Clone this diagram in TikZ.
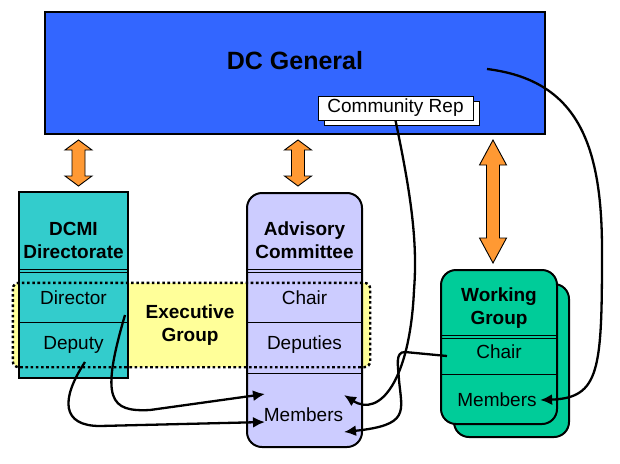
\documentclass[tikz,border=0pt]{standalone}
\usepackage{fontspec}
\setmainfont{Liberation Sans}
\usetikzlibrary{arrows.meta}
\definecolor{dcblue}{HTML}{3366FF}
\definecolor{dcmiteal}{HTML}{33CCCC}
\definecolor{advlilac}{HTML}{CCCCFF}
\definecolor{wggreen}{HTML}{00CC99}
\definecolor{execyellow}{HTML}{FFFF99}
\definecolor{arroworange}{HTML}{FF9933}
\tikzstyle{box}=[draw,line width=2pt,inner sep=0pt]
\tikzstyle{title}=[font=\bfseries\fontsize{19}{23}\selectfont,align=center]
\tikzstyle{entry}=[font=\fontsize{19}{23}\selectfont]
\tikzstyle{sep}=[line width=1pt]
\tikzstyle{link}=[line width=2.3pt,-{Latex[length=12pt,width=11pt]}]
\tikzstyle{orangearrow}=[draw,fill=arroworange,line width=0.9pt,line join=miter]

\begin{document}
\begin{tikzpicture}[x=1pt,y=-1pt]
\useasboundingbox (0,0) rectangle (620,463);
% top box
\node [box,fill=dcblue,minimum width=500pt,minimum height=122pt] (dc) at (295,73) {};
\node [title,font=\bfseries\fontsize{25}{30}\selectfont] (dctitle) at (295,61) {DC General};
\node [box,line width=0.9pt,fill=white,minimum width=155pt,minimum height=24pt] (crepback) at (401.5,113) {};
\node [box,entry,line width=0.9pt,fill=white,minimum width=155pt,minimum height=24pt] (crep) at (395.5,108) {Community Rep};

\foreach \ax/\ya/\yb/\hl in {78.5/140/186/10, 298/140/186/10, 493/140/263/25}
  \draw[orangearrow] (\ax,\ya) -- (\ax+13.5,\ya+\hl) -- (\ax+6.5,\ya+\hl) -- (\ax+6.5,\yb-\hl) -- (\ax+13.5,\yb-\hl)
    -- (\ax,\yb) -- (\ax-13.5,\yb-\hl) -- (\ax-6.5,\yb-\hl) -- (\ax-6.5,\ya+\hl) -- (\ax-13.5,\ya+\hl) -- cycle;

% executive group
\node [fill=execyellow,rounded corners=6pt,minimum width=357pt,minimum height=84pt,inner sep=0pt] (exec) at (191.5,325) {};

\node [box,fill=dcmiteal,minimum width=109pt,minimum height=186pt] (dcmi) at (73.5,285) {};
\draw[sep] (dcmi.west |- 0,269.5) -- (dcmi.east |- 0,269.5);
\draw[sep] (dcmi.west |- 0,272.5) -- (dcmi.east |- 0,272.5);
\draw[sep] (dcmi.west |- 0,322.5) -- (dcmi.east |- 0,322.5);

\node [box,fill=advlilac,rounded corners=15pt,minimum width=115pt,minimum height=254pt] (adv) at (304.5,320) {};
\draw[sep] (adv.west |- 0,269.5) -- (adv.east |- 0,269.5);
\draw[sep] (adv.west |- 0,272.5) -- (adv.east |- 0,272.5);
\draw[sep] (adv.west |- 0,322.5) -- (adv.east |- 0,322.5);
\draw[sep] (adv.west |- 0,373.5) -- (adv.east |- 0,373.5);

\draw[line width=2.4pt,dash pattern=on 2.6pt off 2.6pt,rounded corners=6pt] (exec.north west) rectangle (exec.south east);

\node [box,fill=wggreen,rounded corners=15pt,minimum width=115pt,minimum height=153pt] (wgback) at (511.5,360.5) {};
\node [box,fill=wggreen,rounded corners=15pt,minimum width=116pt,minimum height=154pt] (wg) at (499,347) {};
\draw[sep] (wg.west |- 0,335) -- (wg.east |- 0,335);
\draw[sep] (wg.west |- 0,338) -- (wg.east |- 0,338);
\draw[sep] (wg.west |- 0,374) -- (wg.east |- 0,374);

% texts
\node [title] (dcmititle) at (73.5,240) {DCMI\\Directorate};
\node [entry] (director) at (73.5,298) {Director};
\node [entry] (deputy) at (73.5,345) {Deputy};
\node [title] (exectitle) at (190,325) {Executive\\Group};
\node [title] (advtitle) at (304.5,240) {Advisory\\Committee};
\node [entry] (advchair) at (304.5,298) {Chair};
\node [entry] (deputies) at (304.5,345) {Deputies};
\node [entry] (advmem) at (303.5,415) {Members};
\node [title] (wgtitle) at (499,308) {Working\\Group};
\node [entry] (wgchair) at (499,352) {Chair};
\node [entry] (wgmem) at (497,400) {Members};

\coordinate (dcout) at (487,69);
\coordinate (dirout) at (125,315);
\coordinate (depout) at (85,362);
\coordinate (wgout) at (447,356);
\coordinate (advin1) at (265,394);
\coordinate (advin2) at (265,422);
\coordinate (advin3) at (344,395);
\coordinate (advin4) at (344,432);

\draw[link] (dcout) .. controls (575,80) and (602,140) .. (602,250) .. controls (602,370) and (600,398) .. (wgmem.east);
\draw[link] (crep.south) .. controls (410,190) and (418,240) .. (414,290) .. controls (410,380) and (380,418) .. (advin3);
\draw[link] (wgout) -- (405,352) .. controls (395,352) and (398,365) .. (399,380) .. controls (402,412) and (410,425) .. (advin4);
\draw[link] (dirout) .. controls (100,400) and (110,412) .. (150,410) -- (advin1);
\draw[link] (depout) .. controls (60,400) and (62,426) .. (100,426) -- (advin2);
\end{tikzpicture}
\end{document}
